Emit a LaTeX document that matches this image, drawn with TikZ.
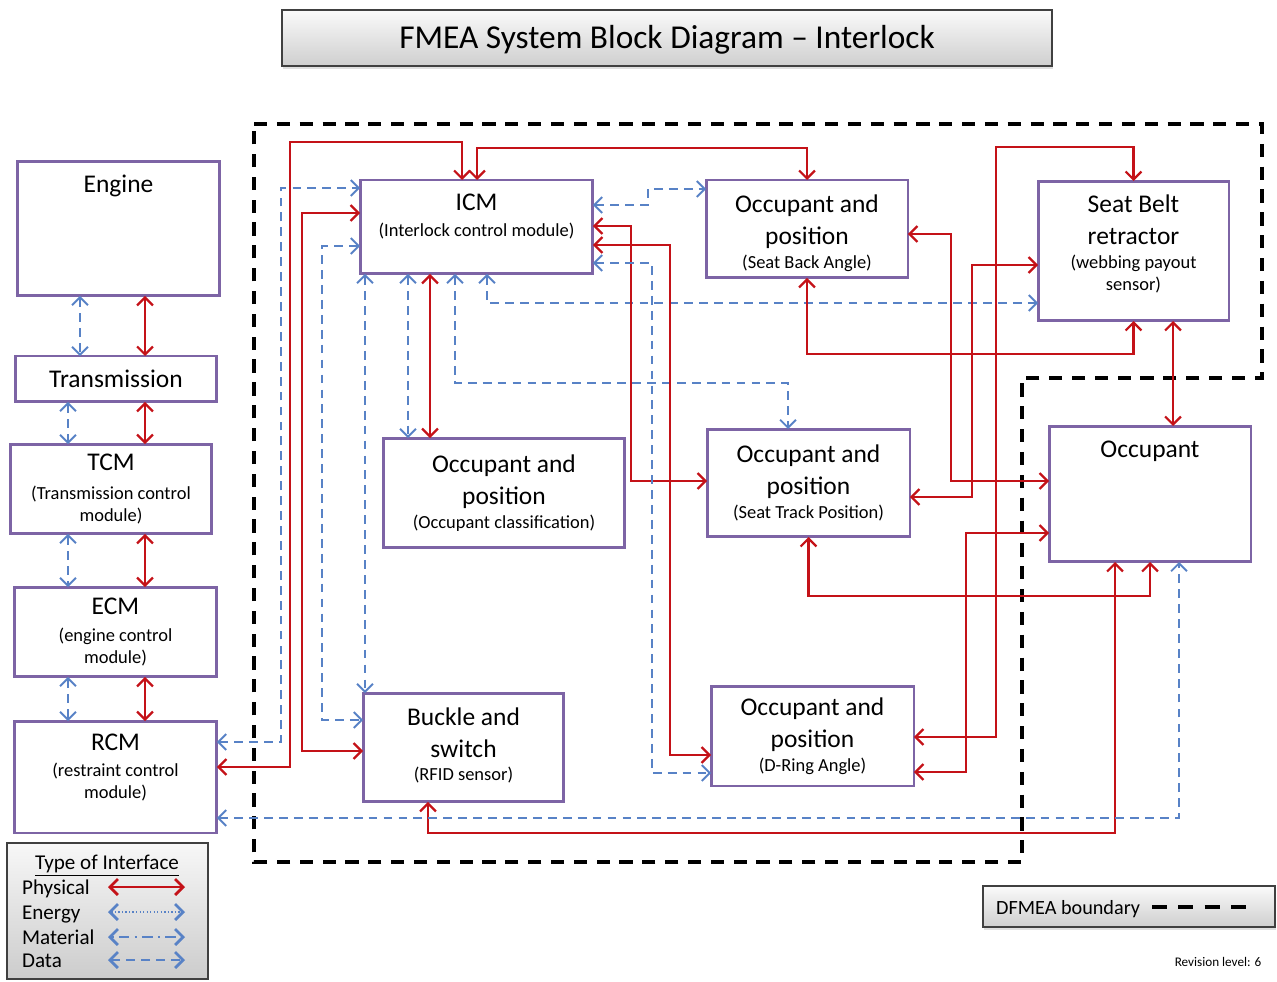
\documentclass[tikz,border=0pt]{standalone}
\usepackage{fontspec}
\setmainfont{Carlito}
\usepackage{tikz}
\usetikzlibrary{positioning, arrows.meta, shadows}

\definecolor{physred}{RGB}{196,18,24}
\definecolor{datablue}{RGB}{88,130,198}
\definecolor{boxpurple}{RGB}{125,100,165}

\newcommand{\smalltxt}[1]{{\fontsize{10.5}{12.5}\selectfont #1}}

\tikzset{
  blk/.style={draw=boxpurple, line width=1.7pt, fill=white, align=center,
    inner sep=1pt, outer sep=0pt, font=\fontsize{14.5}{18.2}\selectfont},
  blktext/.style={align=center, inner sep=0pt, font=\fontsize{14.5}{18.2}\selectfont},
  phys/.style={draw=physred, line width=1.3pt,
    arrows={Straight Barb[length=4.5pt,width=9pt]-Straight Barb[length=4.5pt,width=9pt]}},
  data/.style={draw=datablue, line width=1.1pt, dash pattern=on 5pt off 3.5pt,
    arrows={Straight Barb[length=4.5pt,width=9pt]-Straight Barb[length=4.5pt,width=9pt]}},
  energy/.style={data, dash pattern=on 0.8pt off 1.2pt},
  material/.style={data, dash pattern=on 1.2pt off 3pt on 6pt off 3pt},
  legline/.style={line width=1.6pt},
  bound/.style={draw=black, line width=2.4pt, dash pattern=on 7.5pt off 5.5pt},
  banner/.style={draw=black!75, line width=0.9pt, top color=gray!4, bottom color=gray!38,
    drop shadow={opacity=0.25, shadow xshift=0.6pt, shadow yshift=-1.6pt}},
  legtxt/.style={inner sep=1pt, font=\fontsize{12}{14}\selectfont},
}

\begin{document}
\begin{tikzpicture}[x=0.02cm, y=-0.02cm]
  \useasboundingbox (0,0) rectangle (1277,982);

  \node[banner, minimum width=15.4cm, minimum height=1.12cm, text height=14pt, text depth=1.8pt,
    font=\fontsize{19}{23}\selectfont] (title) at (667,38) {FMEA System Block Diagram – Interlock};

  \node[blk, minimum width=4.06cm, minimum height=2.7cm] (engine) at (118.5,228.5) {};
  \node[blktext, below=0.28cm of engine.north] (engine-t) {Engine};
  \node[blk, minimum width=4.04cm, minimum height=0.92cm] (transm) at (116,379) {Transmission};
  \node[blk, minimum width=4.04cm, minimum height=1.8cm] (tcm) at (111,489)
    {TCM\\[-2.2pt]\smalltxt{(Transmission control}\\[-5.7pt]\smalltxt{module)}};
  \node[blk, minimum width=4.06cm, minimum height=1.8cm] (ecm) at (115.5,632)
    {ECM\\[-3pt]\smalltxt{(engine control}\\[-5.7pt]\smalltxt{module)}};
  \node[blk, minimum width=4.06cm, minimum height=2.24cm] (rcm) at (115.5,777) {};
  \node[blktext, below=0.26cm of rcm.north] (rcm-t)
    {RCM\\[-3.6pt]\smalltxt{(restraint control}\\[-5.7pt]\smalltxt{module)}};

  \node[blk, minimum width=4.66cm, minimum height=1.88cm] (icm) at (476.5,227) {};
  \node[blktext, below=0.28cm of icm.north] (icm-t)
    {ICM\\[-3.4pt]\smalltxt{(Interlock control module)}};
  \node[blk, minimum width=4.04cm, minimum height=1.96cm] (occsba) at (807,229) {};
  \node[blktext, below=0.28cm of occsba.north] (occsba-t)
    {Occupant and\\position\\[-4.4pt]\smalltxt{(Seat Back Angle)}};
  \node[blk, minimum width=3.82cm, minimum height=2.8cm] (seatbelt) at (1133.5,251) {};
  \node[blktext, below=0.27cm of seatbelt.north] (seatbelt-t)
    {Seat Belt\\retractor\\[-4.4pt]\smalltxt{(webbing payout}\\[-5.7pt]\smalltxt{sensor)}};
  \node[blk, minimum width=4.84cm, minimum height=2.2cm] (occclass) at (504,493)
    {Occupant and\\position\\[-4.3pt]\smalltxt{(Occupant classification)}};
  \node[blk, minimum width=4.06cm, minimum height=2.16cm] (occstp) at (808.5,483)
    {Occupant and\\position\\[-4.6pt]\smalltxt{(Seat Track Position)}};
  \node[blk, minimum width=4.04cm, minimum height=2.72cm] (occupant) at (1150,494) {};
  \node[blktext, below=0.3cm of occupant.north] (occupant-t) {Occupant};
  \node[blk, minimum width=4.02cm, minimum height=2.18cm] (buckle) at (463.5,747.5) {};
  \node[blktext, below=0.28cm of buckle.north] (buckle-t)
    {Buckle and\\switch\\[-4.6pt]\smalltxt{(RFID sensor)}};
  \node[blk, minimum width=4.06cm, minimum height=2.0cm] (occdra) at (812.5,736)
    {Occupant and\\position\\[-4.6pt]\smalltxt{(D-Ring Angle)}};

  \draw[bound] (254,124) -- (1262,124) -- (1262,378) -- (1022,378) -- (1022,862) -- (254,862) -- cycle;

  \foreach \a/\b/\xb in {engine/transm/80, transm/tcm/68, tcm/ecm/68, ecm/rcm/68} {
    \draw[data] (\a.south -| \xb,0) -- (\b.north -| \xb,0);
    \draw[phys] (\a.south -| 145,0) -- (\b.north -| 145,0);
  }

  \draw[phys] (rcm.east |- 0,767) -| (290,142) -| (icm.north -| 462,0);
  \draw[data] (rcm.east |- 0,742) -| (281,188) -- (icm.west |- 0,188);
  \draw[phys] (icm.west |- 0,213) -| (302,751) -- (buckle.west |- 0,751);
  \draw[data] (icm.west |- 0,246) -| (322,720) -- (buckle.west |- 0,720);
  \draw[data] (icm.south -| 365,0) -- (buckle.north -| 365,0);
  \draw[data] (icm.south -| 408,0) -- (occclass.north -| 408,0);
  \draw[phys] (icm.south -| 430,0) -- (occclass.north -| 430,0);
  \draw[data] (icm.south -| 455,0) -- (455,383) -| (occstp.north -| 788,0);
  \draw[data] (icm.south -| 487,0) |- (seatbelt.west |- 0,303);
  \draw[phys] (icm.north -| 477,0) -- (477,148) -| (occsba.north);

  \draw[data] (icm.east |- 0,205) -| (648,189) -- (occsba.west |- 0,189);
  \draw[phys] (icm.east |- 0,226) -| (631,481) -- (occstp.west |- 0,481);
  \draw[phys] (icm.east |- 0,245) -| (670,755) -- (occdra.west |- 0,755);
  \draw[data] (icm.east |- 0,263) -| (652,773) -- (occdra.west |- 0,773);

  \draw[phys] (occsba.east |- 0,234) -| (951,481) -- (occupant.west |- 0,481);
  \draw[phys] (occstp.east |- 0,497) -| (972,265) -- (seatbelt.west |- 0,265);
  \draw[phys] (occdra.east |- 0,737) -| (996,147) -| (seatbelt.north);
  \draw[phys] (occdra.east |- 0,772) -| (966,533) -- (occupant.west |- 0,533);
  \draw[phys] (occsba.south) -- ++(0,76) -| (seatbelt.south);
  \draw[phys] (seatbelt.south -| 1173,0) -- (occupant.north -| 1173,0);
  \draw[phys] (occstp.south) -- ++(0,59) -| (occupant.south);
  \draw[phys] (buckle.south -| 428,0) -- ++(0,31) -| (occupant.south -| 1115,0);
  \draw[data] (rcm.east |- 0,818) -| (occupant.south -| 1179,0);

  \node[draw=black!75, line width=0.9pt, top color=gray!6, bottom color=gray!40,
    minimum width=4.02cm, minimum height=2.72cm] (legend) at (107.5,911) {};
  \node[legtxt, anchor=base] (legend-t) at (107,869) {\underline{Type of Interface}};
  \foreach \kind/\sty/\y in {Physical/phys/887, Energy/energy/912, Material/material/937, Data/data/960} {
    \node[legtxt, anchor=base west] (leg-\sty) at (20,\y+7) {\kind};
    \coordinate (from-\sty) at (108,\y);
    \coordinate (to-\sty) at (185,\y);
    \draw[\sty, legline] (from-\sty) -- (to-\sty);
  }

  \node[banner, minimum width=5.84cm, minimum height=0.82cm] (dfmea) at (1129,906.5) {};
  \node[legtxt, anchor=base west, font=\fontsize{11.5}{14}\selectfont] (dfmea-t) at (994,914) {DFMEA boundary};
  \coordinate (dash-a) at (1152,907);
  \coordinate (dash-b) at (1256,907);
  \draw[bound, line width=2.8pt, dash pattern=on 8.5pt off 6.5pt] (dash-a) -- (dash-b);

  \node[inner sep=0pt, font=\fontsize{7.5}{9}\selectfont] (rev) at (1218,962) {Revision level: 6};
\end{tikzpicture}
\end{document}
